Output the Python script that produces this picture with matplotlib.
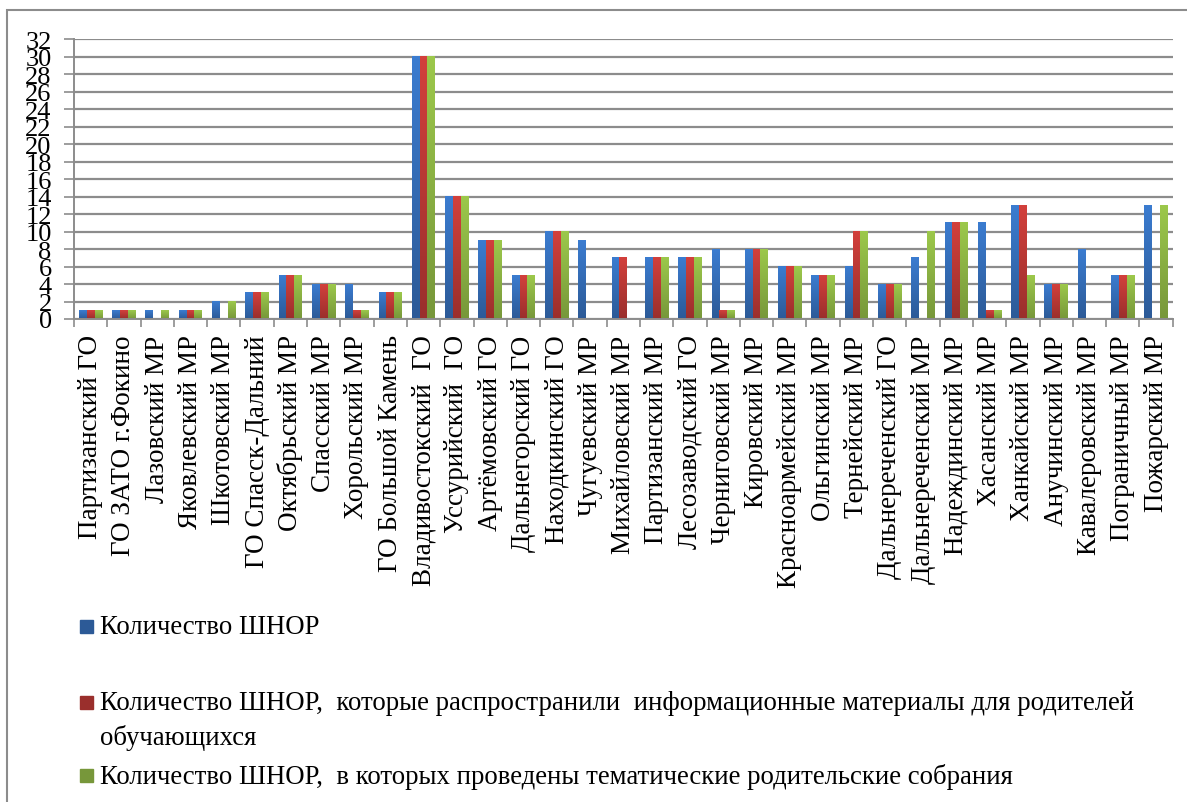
import numpy as np
import matplotlib.pyplot as plt
from matplotlib import font_manager as fm
from matplotlib.colors import LinearSegmentedColormap
from matplotlib.patches import Rectangle

# Times-like serif; look the file up directly so the family name surely resolves
serif_name = 'DejaVu Serif'
for path in fm.findSystemFonts():
    if 'LiberationSerif-Regular' in path:
        fm.fontManager.addfont(path)
        serif_name = fm.FontProperties(fname=path).get_name()
        break
plt.rcParams['font.family'] = [serif_name, 'DejaVu Serif']

# districts / city districts
districts = ['Партизанский ГО', 'ГО ЗАТО г.Фокино', 'Лазовский МР', 'Яковлевский МР',
             'Шкотовский МР', 'ГО Спасск-Дальний', 'Октябрьский МР', 'Спасский МР',
             'Хорольский МР', 'ГО Большой Камень', 'Владивостокский  ГО', 'Уссурийский  ГО',
             'Артёмовский ГО', 'Дальнегорский ГО', 'Находкинский ГО', 'Чугуевский МР',
             'Михайловский МР', 'Партизанский МР', 'Лесозаводский ГО', 'Черниговский МР',
             'Кировский МР', 'Красноармейский МР', 'Ольгинский МР', 'Тернейский МР',
             'Дальнереченский ГО', 'Дальнереченский МР', 'Надеждинский МР', 'Хасанский МР',
             'Ханкайский МР', 'Анучинский МР', 'Кавалеровский МР', 'Пограничный МР',
             'Пожарский МР']

shnor_total = [1, 1, 1, 1, 2, 3, 5, 4, 4, 3, 30, 14, 9, 5, 10, 9, 7, 7, 7, 8, 8, 6, 5, 6,
               4, 7, 11, 11, 13, 4, 8, 5, 13]
shnor_info = [1, 1, 0, 1, 0, 3, 5, 4, 1, 3, 30, 14, 9, 5, 10, 0, 7, 7, 7, 1, 8, 6, 5, 10,
              4, 0, 11, 1, 13, 4, 0, 5, 0]
shnor_meet = [1, 1, 1, 1, 2, 3, 5, 4, 1, 3, 30, 14, 9, 5, 10, 0, 0, 7, 7, 1, 8, 6, 5, 10,
              4, 10, 11, 1, 5, 4, 0, 5, 13]

legend_labels = ['Количество ШНОР',
                 'Количество ШНОР,  которые распространили  информационные материалы для родителей',
                 'Количество ШНОР,  в которых проведены тематические родительские собрания']
legend_wrap = 'обучающихся'
# (top, bottom) of the Excel-style gradient fill
colors = [('#3B7CD0', '#2C5A97'), ('#D2403C', '#9A2F2C'), ('#9CC84B', '#77973A')]

fig = plt.figure(figsize=(11.87, 8.03), dpi=100)
ax = fig.add_axes([0.0623, 0.6015, 0.9257, 0.3485])

x = np.arange(len(districts))
w = 0.235
grad = np.linspace(1, 0, 64).reshape(-1, 1)
for i, vals in enumerate([shnor_total, shnor_info, shnor_meet]):
    top, bot = colors[i]
    cmap = LinearSegmentedColormap.from_list('g%d' % i, [bot, top])
    bars = ax.bar(x + (i - 1) * w, vals, width=w, color=top, zorder=3)
    for b in bars:
        if b.get_height() <= 0:
            continue
        x0, h = b.get_x(), b.get_height()
        ax.imshow(grad, cmap=cmap, vmin=0, vmax=1, aspect='auto', zorder=3.5,
                  extent=(x0, x0 + b.get_width(), 0, h), interpolation='bilinear')

ax.set_xlim(-0.5, len(districts) - 0.5)
ax.set_ylim(0, 32)
ax.set_yticks(range(0, 33, 2))
ax.yaxis.grid(True, color='#8c8c8c', linewidth=1.6, zorder=0)
ax.tick_params(axis='y', length=7, width=1.2, color='#8c8c8c', labelsize=19, pad=9)

# category ticks sit on the boundaries, labels in the middle
ax.set_xticks(np.arange(-0.5, len(districts), 1))
ax.set_xticklabels([])
ax.set_xticks(x, minor=True)
ax.set_xticklabels(districts, minor=True, rotation=90, fontsize=19.5, va='top', ha='center')
ax.tick_params(axis='x', which='major', length=6, width=1.2, color='#8c8c8c')
ax.tick_params(axis='x', which='minor', length=0, pad=11)

for s in ['top', 'right']:
    ax.spines[s].set_visible(False)
for s in ['left', 'bottom']:
    ax.spines[s].set_color('#8c8c8c')
    ax.spines[s].set_linewidth(1.4)
    ax.spines[s].set_zorder(4)

# outer chart border
fig.add_artist(Rectangle((7 / 1187, -0.05), 1.2, 1 - 11 / 803 + 0.05, transform=fig.transFigure,
                         fill=False, edgecolor='#8c8c8c', linewidth=1.5))

# legend below the chart
leg_y = [628, 704, 777]
for lab, (top, bot), yy in zip(legend_labels, colors, leg_y):
    yf = 1 - yy / 803
    fig.add_artist(Rectangle((80 / 1187, yf - 6 / 803), 13 / 1187, 13 / 803,
                             transform=fig.transFigure, color=bot))
    fig.text(100 / 1187, yf, lab, fontsize=19.3, va='center', ha='left')
fig.text(100 / 1187, 1 - 738 / 803, legend_wrap, fontsize=19.3, va='center', ha='left')

fig.savefig('out.png', dpi=100)
